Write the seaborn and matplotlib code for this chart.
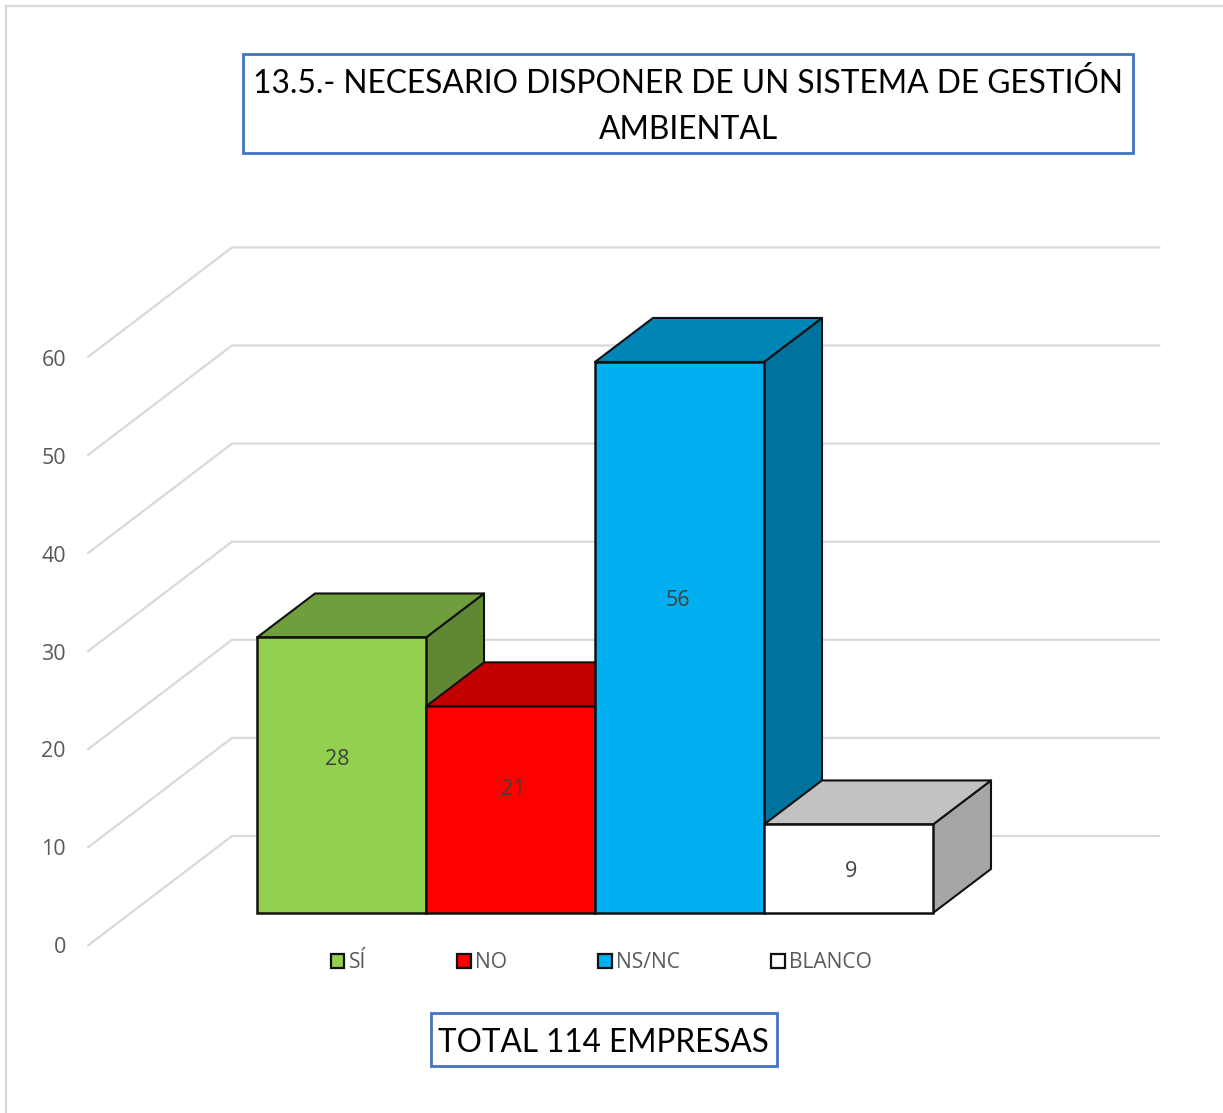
import numpy as np
import pandas as pd
import matplotlib
matplotlib.use('Agg')
import matplotlib.pyplot as plt
import seaborn as sns
from matplotlib.colors import to_rgb
from matplotlib.lines import Line2D
from matplotlib.patches import Patch, Polygon, Rectangle

# data
respuestas = ['SÍ', 'NO', 'NS/NC', 'BLANCO']
empresas = [28, 21, 56, 9]
colores = ['#92D050', '#FF0000', '#00B0F0', '#FFFFFF']
ticks_y = [0, 10, 20, 30, 40, 50, 60]
titulo = '13.5.- NECESARIO DISPONER DE UN SISTEMA DE GESTIÓN\nAMBIENTAL'
total = 'TOTAL 114 EMPRESAS'

W, H = 1223, 1113
PX_CAT = 169.0    # pixels per category
PX_VAL = 9.84     # pixels per unit
X0, Y0 = 257, 913  # left edge and base of the first bar

# 3d look, in pixels
prof_x, prof_y = 58, 44
# label nudges, in pixels
nudge_x = [-4.5, 2.5, -1.5, 3]
nudge_y = [-16, -20, -37, 3]

sns.set_theme(style='white')
plt.rcParams['font.family'] = ['Open Sans', 'DejaVu Sans']

df = pd.DataFrame({'respuesta': respuestas, 'empresas': empresas})

fig = plt.figure(figsize=(W / 100, H / 100), dpi=100, facecolor='white')
ax = fig.add_axes([0, 0, 1, 1])

sns.barplot(data=df, x='respuesta', y='empresas', hue='respuesta', palette=colores, saturation=1,
            width=1, edgecolor='#111111', linewidth=1.8, legend=False, zorder=6, ax=ax)

ax.set_xlim(-0.5 - X0 / PX_CAT, -0.5 + (W - X0) / PX_CAT)
ax.set_ylim((Y0 - H) / PX_VAL, Y0 / PX_VAL)
ax.axis('off')

dx = prof_x / PX_CAT
dy = prof_y / PX_VAL

# walls: side line then back line for each tick, they step 98 px per 10
paso = 9.81 / PX_VAL
pared_x = [(88 - X0) / PX_CAT - 0.5, (232 - X0) / PX_CAT - 0.5, (1159.5 - X0) / PX_CAT - 0.5]
frente = (Y0 - 945.5) / PX_VAL
fondo = (Y0 - 836) / PX_VAL
for t in ticks_y:
    ax.plot(pared_x, [t * paso + frente, t * paso + fondo, t * paso + fondo], color='#D9D9D9', lw=1.6,
            zorder=1, solid_joinstyle='miter')

# tops and sides of each bar
for i, (v, c) in enumerate(zip(empresas, colores)):
    rgb = np.array(to_rgb(c))
    izq, der = i - 0.5, i + 0.5
    arriba = [(izq, v), (izq + dx, v + dy), (der + dx, v + dy), (der, v)]
    lado = [(der, 0), (der, v), (der + dx, v + dy), (der + dx, dy)]
    ax.add_patch(Polygon(lado, closed=True, facecolor=rgb * 0.65, edgecolor='#111111',
                         lw=1.5, zorder=2 + i * 0.5, joinstyle='round'))
    ax.add_patch(Polygon(arriba, closed=True, facecolor=rgb * 0.76, edgecolor='#111111',
                         lw=1.5, zorder=2.1 + i * 0.5, joinstyle='round'))
    ax.text(i + nudge_x[i] / PX_CAT, v / 2 - nudge_y[i] / PX_VAL, str(v), ha='center', va='center',
            fontsize=15.5, color='#404040', zorder=8)

# y axis on its own little axes, the numbers sit lower than the bars
ax_y = fig.add_axes([66 / W, 1 - 945 / H, 1 / W, 587 / H])
ax_y.set_ylim(0, 60)
ax_y.set_yticks(ticks_y)
ax_y.set_xticks([])
ax_y.patch.set_alpha(0)
ax_y.tick_params(axis='y', length=0, pad=0, labelsize=15.5, labelcolor='#595959')
sns.despine(ax=ax_y, left=True, bottom=True)

# legend
asas = [Patch(facecolor=c, edgecolor='#111111', linewidth=1.6) for c in colores]
ley = fig.legend(asas, respuestas, ncol=4, frameon=False, loc='center',
                 bbox_to_anchor=(601.5 / W, 1 - 962.5 / H), fontsize=15.1,
                 handlelength=0.65, handleheight=0.65, handletextpad=0.22, columnspacing=4.33,
                 labelcolor='#595959')

# boxes with the texts
azul = '#4472C4'
fuente = ['Lato', 'DejaVu Sans']
def caja(x0, y0, x1, y1):
    fig.add_artist(Rectangle((x0 / W, 1 - y1 / H), (x1 - x0) / W, (y1 - y0) / H, facecolor='white',
                             edgecolor=azul, lw=2, transform=fig.transFigure))

caja(243, 54, 1132.5, 152.5)
fig.text(688 / W, 1 - 106.5 / H, titulo, ha='center', va='center', fontsize=22.9, color='black',
         family=fuente, linespacing=1.65)
caja(431, 1013, 776.5, 1065.5)
fig.text(603.5 / W, 1 - 1043 / H, total, ha='center', va='center', fontsize=22.7, color='black',
         family=fuente)

# frame of the chart, only top and left show
fig.add_artist(Line2D([5.8 / W, 5.8 / W, 1], [0, 1 - 5.5 / H, 1 - 5.5 / H], color='#D9D9D9', lw=1.6,
                      transform=fig.transFigure))

fig.savefig('out.png', dpi=100)
